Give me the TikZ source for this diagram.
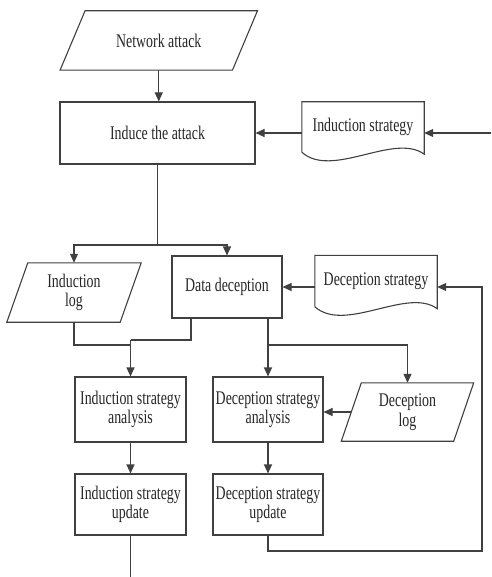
\documentclass[tikz,border=0pt]{standalone}
\usepackage{fontspec}
\setmainfont{Liberation Serif}[FakeStretch=0.72]
\usetikzlibrary{arrows.meta}

\begin{document}
\begin{tikzpicture}
	[
	x=1pt, y=-1pt,
	align=center,
	font=\fontsize{19.3}{19.5}\selectfont,
	text=black!85,
	box/.style={draw=black!75,line width=1.1pt,fill=none,inner sep=0pt},
	slant/.style={draw=none,inner sep=0pt},
	doc/.style={draw=none,inner sep=0pt},
	line/.style={draw=black!75,line width=1.1pt},
	arrow/.style={
           line,
           -{Triangle[length=9pt,width=8pt]},}
	]
		\useasboundingbox (0,0) rectangle (491,577);

		% process boxes
		\node[box,minimum width=195pt,minimum height=62pt] (induce) at (157.5,133) {Induce the attack};
		\node[box,minimum width=110pt,minimum height=62pt] (deceive) at (227,287) {Data deception};
		\node[box,minimum width=111pt,minimum height=65pt] (isa) at (130.5,409.5) {Induction strategy\\analysis};
		\node[box,minimum width=110pt,minimum height=65pt] (dsa) at (268,409.5) {Deception strategy\\analysis};
		\node[box,minimum width=111pt,minimum height=61pt] (isu) at (130.5,504.5) {Induction strategy\\update};
		\node[box,minimum width=110pt,minimum height=61pt] (dsu) at (268,504.5) {Deception strategy\\update};

		% data (parallelograms)
		\node[slant,minimum width=172pt,minimum height=59pt] (attack) at (158.75,40.5) {Network attack};
		\node[slant,minimum width=113pt,minimum height=59pt] (ilog) at (74,292.5) {Induction\\log};
		\node[slant,minimum width=112pt,minimum height=58pt] (dlog) at (407.5,412) {Deception\\log};
		\foreach \n/\s in {attack/12.5,ilog/10.5,dlog/10}
			\draw[line] ([xshift=\s pt]\n.north west) -- ([xshift=\s pt]\n.north east)
				-- ([xshift=-\s pt]\n.south east) -- ([xshift=-\s pt]\n.south west) -- cycle;

		% documents
		\node[doc,minimum width=122pt,minimum height=50pt] (istrat) at (363,127) {Induction strategy};
		\node[doc,minimum width=122pt,minimum height=51pt] (dstrat) at (376,281) {Deception strategy};
		\foreach \n in {istrat,dstrat}
			\draw[line] (\n.south west) -- (\n.north west) -- (\n.north east) -- ([yshift=-2pt]\n.south east)
				.. controls ([xshift=-30pt,yshift=20pt]\n.south east) and ([xshift=30pt,yshift=-27pt]\n.south west) .. (\n.south west);

		% free ends and bends
		\coordinate (inR) at (491,133);
		\coordinate (split) at (157.5,245);
		\coordinate (ljoin) at (130.5,345);
		\coordinate (rjoin) at (130.5,340);
		\coordinate (dsplit) at (268,345);
		\coordinate (out) at (130.5,577);
		\coordinate (fbC) at (482,551);
		\coordinate (fbT) at (482,287);

		% connectors
		\draw[arrow] (attack.south) -- (attack.south |- induce.north);
		\draw[arrow] (inR) -- (inR -| istrat.east);
		\draw[arrow] (istrat.west |- induce.east) -- (induce.east);
		\draw[line] (induce.south) -- (split);
		\draw[arrow] (split) -| (ilog.north);
		\draw[arrow] (split) -| (deceive.north);
		\draw[arrow] (dstrat.west |- deceive.east) -- (deceive.east);
		\draw[line] (ilog.south) |- (ljoin);
		\draw[line] ([xshift=-36pt]deceive.south) |- (rjoin);
		\draw[arrow] (rjoin) -- (isa.north);
		\draw[arrow] (dsa.north |- deceive.south) -- (dsa.north);
		\draw[arrow] (dsplit) -| (dlog.north);
		\draw[arrow] (dlog.west) -- (dlog.west -| dsa.east);
		\draw[arrow] (isa.south) -- (isu.north);
		\draw[arrow] (dsa.south) -- (dsu.north);
		\draw[line] (isu.south) -- (out);
		\draw[arrow] (dsu.south) |- (fbC) -- (fbT) -- (fbT -| dstrat.east);

\end{tikzpicture}
\end{document}
